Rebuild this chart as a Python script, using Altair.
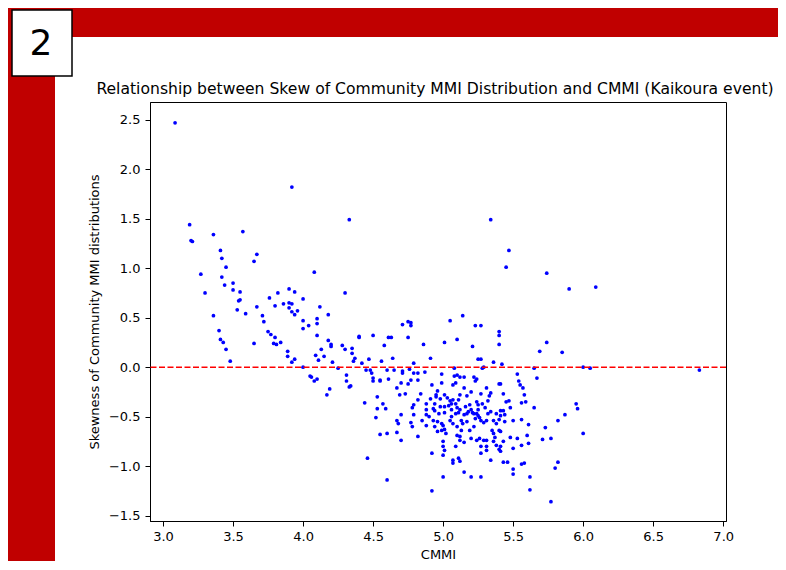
import altair as alt
import pandas as pd

# CMMI (x) and skewness (y) values (aligned lists)
cmmi = [
    3.086, 3.92, 4.33, 3.19, 3.20, 3.21, 3.36, 3.57, 3.41, 5.34,
    3.67, 3.42, 3.65, 3.45, 3.27, 4.08, 3.42, 3.50, 3.44, 3.50,
    3.30, 3.55, 3.82, 3.90, 3.94, 4.30, 3.76, 3.55, 3.54, 4.00,
    3.86, 3.90, 3.92, 3.80, 3.67, 4.12, 3.90, 3.92, 3.96, 3.53,
    3.59, 3.94, 3.71, 4.18, 3.36, 3.72, 4.00, 4.10, 4.10, 4.04,
    4.00, 3.40, 3.75, 3.77, 3.80, 4.10, 3.41, 3.43, 3.65, 3.79,
    3.81, 3.84, 4.18, 4.20, 4.20, 4.28, 4.30, 3.45, 4.13, 3.89,
    3.89, 4.09, 4.15, 3.94, 3.92, 4.11, 3.48, 4.21, 4.00, 4.25,
    4.05, 4.06, 4.10, 4.08, 4.31, 4.31, 4.33, 4.19, 4.17,
    4.71, 4.75, 4.77, 4.77, 5.05, 5.14, 5.23, 5.27, 5.40, 5.40,
    5.40, 4.40, 4.40, 4.50, 4.61, 4.63, 4.75, 4.86, 5.01, 5.10,
    4.58, 4.35, 4.35, 4.37, 4.36, 4.47, 4.56, 4.64, 4.91, 5.21,
    5.25, 5.27, 5.36, 4.42, 4.79, 4.45, 4.48, 4.49, 4.50, 4.60,
    4.65, 4.71, 4.71, 4.76, 4.79, 4.82, 4.87, 4.99, 5.08, 5.08,
    5.10, 5.12, 5.15, 5.22, 5.24, 5.28, 5.29, 4.55, 4.61, 4.77,
    4.82,
    4.34, 4.50, 4.55, 4.70, 4.75, 4.92, 4.99, 5.07, 5.09, 5.23,
    5.31, 5.40, 4.67, 4.73, 4.69, 4.53, 4.44, 4.57, 4.53, 4.59,
    4.52, 4.70, 4.67, 4.68, 4.79, 4.78, 4.82, 4.84, 4.79, 4.77,
    4.78, 4.88, 4.88, 4.88, 4.85, 4.88, 4.93, 4.94, 4.93, 4.96,
    4.98, 4.91, 4.95, 4.96, 5.01, 5.03, 5.06, 5.07, 5.06, 5.01,
    5.01, 5.04, 4.99, 5.00, 5.01, 4.99, 5.02, 5.00, 5.00, 5.01,
    5.00, 5.00, 4.92, 4.92, 4.60, 4.46, 4.55, 4.60, 4.67, 4.70,
    4.82, 5.07, 5.07, 5.11, 5.12, 5.09, 5.15, 5.20, 5.27, 5.10,
    5.12, 5.12, 5.15, 5.13, 5.10, 5.14, 5.13, 5.17, 5.19, 5.22,
    5.20, 5.24, 5.26, 5.29, 5.31, 5.27, 5.31, 5.31, 5.27, 5.34,
    5.36, 5.38, 5.40, 5.37, 5.36, 5.35,
    4.95, 4.98, 5.05, 5.09, 5.10, 5.12, 5.11, 5.09, 5.15, 5.17,
    5.18, 5.16, 5.19, 5.20, 5.21, 5.22, 5.24, 5.25, 5.25, 5.23,
    5.26, 5.27, 5.29, 5.31, 5.32, 5.34, 5.28, 5.30, 5.32, 5.33,
    5.34, 5.27, 5.17, 5.20, 5.15, 5.12, 5.11, 5.24, 5.25, 5.38,
    5.40, 5.38, 5.36, 5.40, 5.05, 5.07, 5.06, 4.94, 4.96, 4.97,
    4.90, 4.94,
    5.47, 5.45, 5.74, 5.90, 6.09, 5.74, 5.69, 5.85, 5.42, 5.65,
    6.00, 6.05, 5.53, 5.67,
    5.54, 5.55, 5.57, 5.43, 5.58, 5.41, 5.45, 5.47, 5.56, 5.59,
    5.48, 5.65, 5.41, 5.43, 5.44, 5.41, 5.44, 5.50, 5.56, 5.61,
    5.95, 5.96, 5.87, 5.82, 5.73, 6.00, 5.41, 5.48, 5.53, 5.60,
    5.71, 5.77, 5.61, 5.43, 5.41, 5.41, 5.50, 5.56, 5.43, 5.46,
    5.50, 5.50, 5.56, 5.58, 5.82, 5.80, 5.62, 5.62, 5.77,
    6.83,
]
skew = [
    2.47, 1.82, 1.49, 1.44, 1.28, 1.27, 1.34, 1.37, 1.18, 1.49,
    1.14, 1.10, 1.07, 1.01, 0.94, 0.96, 0.91, 0.85, 0.83, 0.78,
    0.75, 0.76, 0.75, 0.79, 0.76, 0.75, 0.70, 0.68, 0.67, 0.69,
    0.64, 0.65, 0.64, 0.62, 0.61, 0.61, 0.60, 0.56, 0.57, 0.58,
    0.54, 0.53, 0.52, 0.53, 0.52, 0.46, 0.47, 0.49, 0.44, 0.42,
    0.39, 0.37, 0.36, 0.33, 0.30, 0.32, 0.28, 0.25, 0.24, 0.24,
    0.23, 0.25, 0.27, 0.23, 0.21, 0.22, 0.18, 0.18, 0.18, 0.16,
    0.11, 0.12, 0.11, 0.08, 0.05, 0.07, 0.06, 0.05, 0.00, -0.01,
    -0.09, -0.10, -0.12, -0.14, -0.08, -0.14, -0.20, -0.22, -0.28,
    0.43, 0.46, 0.45, 0.42, 0.47, 0.52, 0.42, 0.42, 0.36, 0.32,
    0.23, 0.30, 0.31, 0.32, 0.30, 0.30, 0.30, 0.23, 0.25, 0.28,
    0.22, 0.19, 0.14, 0.09, 0.06, 0.08, 0.06, 0.09, 0.09, 0.21,
    0.08, 0.08, 0.05, 0.04, 0.04, -0.03, -0.03, -0.06, -0.11, -0.03,
    -0.03, -0.04, -0.06, -0.02, -0.06, -0.06, -0.05, -0.07, -0.01, -0.09,
    -0.08, -0.10, -0.10, -0.10, -0.12, -0.01, 0.00, -0.13, -0.12, -0.13,
    -0.13,
    -0.19, -0.14, -0.14, -0.16, -0.17, -0.18, -0.16, -0.18, -0.16, -0.14,
    -0.21, -0.17, -0.21, -0.27, -0.28, -0.30, -0.36, -0.37, -0.42, -0.42,
    -0.51, -0.48, -0.54, -0.57, -0.38, -0.41, -0.33, -0.27, -0.48, -0.56,
    -0.60, -0.37, -0.43, -0.48, -0.54, -0.59, -0.42, -0.44, -0.54, -0.55,
    -0.40, -0.32, -0.28, -0.24, -0.28, -0.31, -0.37, -0.33, -0.43, -0.46,
    -0.40, -0.39, -0.57, -0.59, -0.63, -0.64, -0.67, -0.75, -0.80, -0.84,
    -0.89, -1.11, -0.87, -1.25, -1.14, -0.92, -0.68, -0.67, -0.66, -0.74,
    -0.70, -0.94, -0.97, -0.92, -0.95, -0.80, -1.06, -1.11, -1.11, -0.69,
    -0.70, -0.74, -0.76, -0.64, -0.60, -0.57, -0.54, -0.55, -0.64, -0.60,
    -0.72, -0.74, -0.72, -0.74, -0.74, -0.80, -0.80, -0.84, -0.87, -0.94,
    -0.75, -0.79, -0.83, -0.71, -0.67, -0.64,
    -0.30, -0.32, -0.34, -0.37, -0.41, -0.43, -0.46, -0.47, -0.48, -0.47,
    -0.45, -0.40, -0.38, -0.43, -0.46, -0.47, -0.47, -0.43, -0.49, -0.52,
    -0.51, -0.54, -0.56, -0.54, -0.47, -0.45, -0.37, -0.41, -0.34, -0.29,
    -0.26, -0.27, -0.29, -0.25, -0.21, -0.28, -0.33, -0.35, -0.38, -0.47,
    -0.53, -0.57, -0.54, -0.64, -0.54, -0.57, -0.50, -0.60, -0.65, -0.47,
    -0.50, -0.37,
    1.18, 1.01, 0.95, 0.79, 0.81, 0.25, 0.16, 0.15, 0.03, -0.01,
    0.00, -0.01, -0.07, -0.11,
    -0.14, -0.18, -0.21, -0.27, -0.28, -0.17, -0.35, -0.34, -0.36, -0.35,
    -0.41, -0.41, -0.44, -0.44, -0.48, -0.49, -0.55, -0.54, -0.53, -0.58,
    -0.37, -0.42, -0.48, -0.54, -0.61, -0.67, -0.65, -0.71, -0.72, -0.69,
    -0.73, -0.72, -0.77, -0.75, -0.80, -0.85, -0.82, -0.79, -0.96, -0.96,
    -1.03, -1.08, -0.98, -0.97, -0.96, -1.02, -1.11, -1.24, -1.36,
    -0.03,
]

x_ticks = [3.0, 3.5, 4.0, 4.5, 5.0, 5.5, 6.0, 6.5, 7.0]
y_ticks = [-1.5, -1.0, -0.5, 0.0, 0.5, 1.0, 1.5, 2.0, 2.5]
ref_level = [0.0]
slide_number = ["2"]
title_text = ["Relationship between Skew of Community MMI Distribution and CMMI (Kaikoura event)"]

FONT = "DejaVu Sans"
RED = "#C00000"

df = pd.DataFrame({"CMMI": cmmi[: len(skew)], "Skew": skew[: len(cmmi)]})
ref_df = pd.DataFrame({"y": ref_level})
one = pd.DataFrame({"k": [0]})
lab = pd.DataFrame({"t": slide_number})
ttl = pd.DataFrame({"t": title_text})

xs = alt.Scale(domain=[2.907, 7.02], nice=False, zero=False)
ys = alt.Scale(domain=[-1.555, 2.68], nice=False, zero=False)

# decorations (slide frame), positioned relative to the plot origin
top_band = alt.Chart(one).mark_rect(color=RED).encode(
    x=alt.value(-160), x2=alt.value(650), y=alt.value(-110), y2=alt.value(-65)
)
left_band = alt.Chart(one).mark_rect(color=RED).encode(
    x=alt.value(-160), x2=alt.value(-95), y=alt.value(-110), y2=alt.value(480)
)
box = alt.Chart(one).mark_rect(fill="white", stroke="black", strokeWidth=1.5).encode(
    x=alt.value(-138), x2=alt.value(-78), y=alt.value(-92), y2=alt.value(-26)
)
box_text = alt.Chart(lab).mark_text(
    font=FONT, fontSize=36, color="black", align="center", baseline="middle"
).encode(text="t:N", x=alt.value(-109), y=alt.value(-58))

title = alt.Chart(ttl).mark_text(
    font=FONT, fontSize=15.6, color="black", align="center", baseline="middle"
).encode(text="t:N", x=alt.value(285), y=alt.value(-13))

points = alt.Chart(df).mark_circle(size=14, color="blue", opacity=1).encode(
    x=alt.X(
        "CMMI:Q",
        scale=xs,
        axis=alt.Axis(values=x_ticks, format=".1f", title="CMMI", labelPadding=4, titlePadding=5),
    ),
    y=alt.Y(
        "Skew:Q",
        scale=ys,
        axis=alt.Axis(
            values=y_ticks,
            format=".1f",
            title="Skewness of Community MMI distributions",
            labelPadding=5,
            titlePadding=7,
        ),
    ),
)

zero_line = alt.Chart(ref_df).mark_rule(
    color="red", strokeDash=[6, 2.5], strokeWidth=1.5
).encode(y=alt.Y("y:Q", scale=ys))

chart = (
    alt.layer(top_band, left_band, box, box_text, title, points, zero_line)
    .properties(
        width=576,
        height=419,
        autosize=alt.AutoSizeParams(type="none"),
        padding={"left": 142, "top": 94, "right": 52, "bottom": 40},
        background="white",
    )
    .configure_view(stroke="black", strokeWidth=1)
    .configure_axis(
        grid=False,
        domainColor="black",
        domainWidth=1,
        tickColor="black",
        tickSize=5,
        labelFont=FONT,
        labelFontSize=13,
        labelColor="black",
        titleFont=FONT,
        titleFontSize=13,
        titleFontWeight="normal",
        titleColor="black",
    )
)

chart.save("out.html", embed_options={"renderer": "svg", "actions": False})
